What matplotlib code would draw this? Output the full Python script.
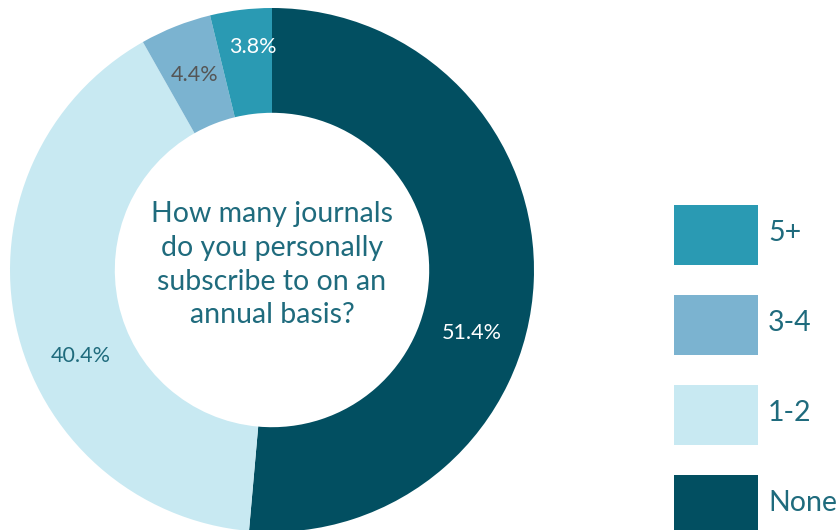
import numpy as np
import matplotlib
matplotlib.use("Agg")
import matplotlib.pyplot as plt
from matplotlib.patches import Patch

# Survey answer shares, clockwise from 12 o'clock
categories = ["None", "1-2", "3-4", "5+"]
shares = [51.4, 40.4, 4.4, 3.8]
colors = ["#024f61", "#c8e9f2", "#7bb3d0", "#2a9ab3"]
label_colors = ["white", "#1f6b7d", "#555555", "white"]
question = "How many journals\ndo you personally\nsubscribe to on an\nannual basis?"

plt.rcParams["font.family"] = ["Lato", "DejaVu Sans"]
TEAL = "#1f6b7d"

W, H = 839, 530
fig = plt.figure(figsize=(W / 100, H / 100), dpi=100)
ax = fig.add_axes([0, 0, 1, 1])

wedges, _ = ax.pie(shares, colors=colors, startangle=90, counterclock=False,
                   radius=1.0, wedgeprops=dict(width=0.4, linewidth=0))

# donut centre (272, 270) px, outer radius 262 px -- set after pie()
cx, cy, R = 272, 270, 262
ax.set_xlim(-cx / R, (W - cx) / R)
ax.set_ylim(-(H - cy) / R, cy / R)
ax.set_aspect("equal")
ax.axis("off")

# percent labels; the two big slices have their labels nudged clockwise
shift = [-15, 12, 0, -2]
rad = [0.80, 0.80, 0.80, 0.855]
for w, s, c, d, r in zip(wedges, shares, label_colors, shift, rad):
    ang = np.deg2rad((w.theta1 + w.theta2) / 2 + d)
    ax.text(r * np.cos(ang), r * np.sin(ang), f"{s}%", color=c,
            fontsize=15.5, ha="center", va="center")

ax.text(0, 0.02, question, ha="center", va="center", color=TEAL,
        fontsize=20.5, linespacing=1.36)

handles = [Patch(facecolor=c, edgecolor="none") for c in colors][::-1]
fig.legend(handles, categories[::-1], loc="upper left",
           bbox_to_anchor=(674 / W, 1 - 205 / H), frameon=False,
           fontsize=16, handlelength=3.78, handleheight=3.78,
           labelspacing=1.35, handletextpad=0.45, borderpad=0,
           borderaxespad=0, labelcolor=TEAL)
for t in fig.legends[0].get_texts():
    t.set_fontsize(20.5)

fig.savefig("out.png", dpi=100)
